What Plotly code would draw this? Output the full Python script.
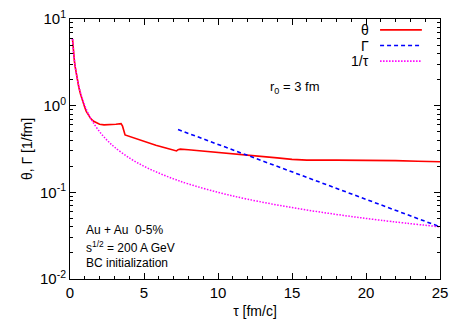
import plotly.graph_objects as go

# theta (red, solid)
tau_theta = [0.17, 0.2, 0.25, 0.3, 0.35, 0.42, 0.5, 0.6, 0.7, 0.8, 0.9, 1.0, 1.1, 1.25, 1.4,
             1.6, 1.8, 2.0, 2.3, 2.7, 3.1, 3.45, 3.55, 3.72, 4.2, 5.0, 5.8, 6.6, 7.2, 7.3,
             7.45, 8.0, 9.0, 10.0, 11.0, 12.0, 13.0, 14.0, 15.0, 16.0, 18.0, 20.0, 22.0,
             23.5, 25.0]
theta = [5.85, 4.9, 3.9, 3.25, 2.8, 2.35, 1.95, 1.62, 1.38, 1.2, 1.06, 0.95, 0.86, 0.77, 0.71,
         0.66, 0.63, 0.61, 0.6, 0.6, 0.61, 0.62, 0.58, 0.46, 0.43, 0.39, 0.35, 0.32, 0.30, 0.31,
         0.315, 0.31, 0.30, 0.29, 0.28, 0.27, 0.26, 0.25, 0.24, 0.235, 0.235, 0.235, 0.232,
         0.228, 0.225]

# Gamma (blue, dashed)
tau_gamma = [7.3, 10.0, 12.5, 15.0, 17.5, 20.0, 22.5, 25.0]
gamma = [0.53, 0.357, 0.248, 0.172, 0.119, 0.083, 0.0575, 0.040]

# 1/tau (magenta, dotted)
tau_inv = [0.17, 0.2, 0.25, 0.3, 0.35, 0.4, 0.5, 0.6, 0.7, 0.85, 1.0, 1.25, 1.5, 2.0, 2.5,
           3.0, 4.0, 5.0, 6.0, 7.0, 8.0, 10.0, 12.0, 15.0, 18.0, 21.0, 25.0]
inv_tau = [5.9, 5.0, 4.0, 3.33, 2.86, 2.5, 2.0, 1.67, 1.43, 1.18, 1.0, 0.8, 0.667, 0.5, 0.4,
           0.333, 0.25, 0.2, 0.167, 0.143, 0.125, 0.1, 0.0833, 0.0667, 0.0556, 0.0476, 0.04]

x_ticks = [0, 5, 10, 15, 20, 25]
y_ticks = [0.01, 0.1, 1, 10]
y_ticktext = ["10<sup>-2</sup>", "10<sup>-1</sup>", "10<sup>0</sup>", "10<sup>1</sup>"]

FONT = "Liberation Sans, Arial, Helvetica, sans-serif"
DOT = "1.5px,1.5px"

fig = go.Figure()
fig.add_trace(go.Scatter(x=tau_theta, y=theta, mode="lines",
                         line=dict(color="#ff0000", width=1.6),
                         showlegend=False))
fig.add_trace(go.Scatter(x=tau_gamma, y=gamma, mode="lines",
                         line=dict(color="#0000ff", width=1.6, dash="4px,3px"),
                         showlegend=False))
fig.add_trace(go.Scatter(x=tau_inv, y=inv_tau, mode="lines",
                         line=dict(color="#ff00ff", width=1.5, dash=DOT, shape="spline"),
                         showlegend=False))

# legend drawn gnuplot-style: text right, sample line after it
legend_items = [("θ", "#ff0000", "solid"), ("Γ", "#0000ff", "4px,3px"), ("1/τ", "#ff00ff", DOT)]
for i, (label, color, dash) in enumerate(legend_items):
    yp = 0.958 - i * 0.06
    fig.add_annotation(x=0.8135, y=yp, xref="paper", yref="paper", text=label,
                       showarrow=False, xanchor="right", yanchor="middle",
                       font=dict(size=14, color="black", family=FONT))
    fig.add_shape(type="line", xref="paper", yref="paper", x0=0.838, x1=0.951, y0=yp, y1=yp,
                  line=dict(color=color, width=1.6, dash=dash))

fig.add_annotation(x=0.535, y=0.738, xref="paper", yref="paper", text="r<sub>0</sub> = 3 fm",
                   showarrow=False, xanchor="left", yanchor="middle",
                   font=dict(size=13, color="black", family=FONT))

info_lines = ["Au + Au  0-5%", "s<sup>1/2</sup> = 200 A GeV", "BC initialization"]
for i, txt in enumerate(info_lines):
    fig.add_annotation(x=0.038, y=0.188 - i * 0.063, xref="paper", yref="paper", text=txt,
                       showarrow=False, xanchor="left", yanchor="middle",
                       font=dict(size=12, color="black", family=FONT))

axis_common = dict(showline=True, linecolor="black", linewidth=1, mirror="allticks",
                   ticks="inside", ticklen=6, tickcolor="black", showgrid=False, zeroline=False,
                   automargin=False, tickfont=dict(size=15, color="black", family=FONT))

fig.update_xaxes(range=[0, 25], tickvals=x_ticks,
                 minor=dict(ticks="inside", ticklen=3, dtick=1, tickcolor="black", showgrid=False),
                 title=dict(text="τ [fm/c]", font=dict(size=14, color="black", family=FONT), standoff=6),
                 **axis_common)
fig.update_yaxes(type="log", range=[-2, 1], tickvals=y_ticks, ticktext=y_ticktext,
                 minor=dict(ticks="inside", ticklen=3, dtick="D1", tickcolor="black", showgrid=False),
                 title=dict(text="θ, Γ [1/fm]", font=dict(size=14, color="black", family=FONT), standoff=4),
                 **axis_common)

fig.update_layout(width=467, height=327, margin=dict(l=70, r=27, t=19, b=48),
                  paper_bgcolor="white", plot_bgcolor="white",
                  font=dict(family=FONT, color="black"))

# drop the default page margin so the figure sits at the window's corner
fig.write_html("out.html", config={"displayModeBar": False},
               post_script="document.body.style.margin='0';")
